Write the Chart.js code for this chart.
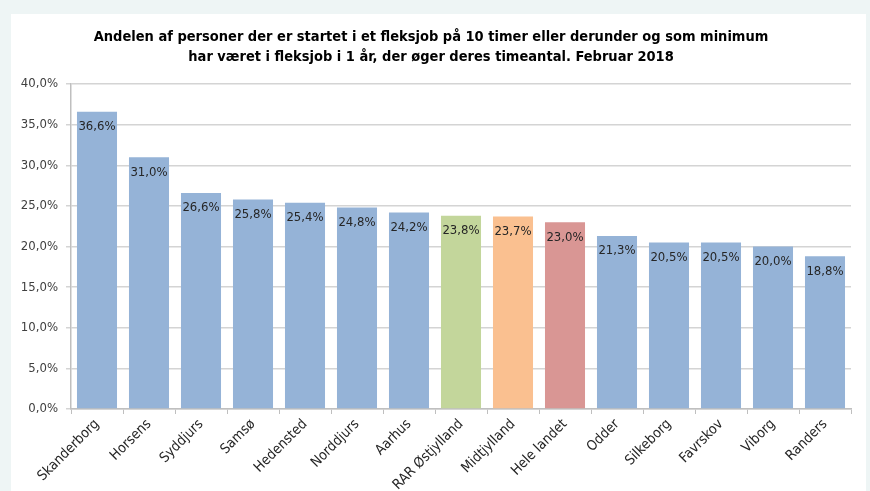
<!DOCTYPE html>
<html>
<head>
<meta charset="utf-8">
<script src="https://cdn.jsdelivr.net/npm/chart.js@4.4.1/dist/chart.umd.min.js"></script>
<style>
    html, body { margin: 0; padding: 0; background: #eef5f5; }
    #wrap { position: absolute; left: 11px; top: 14px; width: 855px; height: 477px; background: #fff; }
</style>
</head>
<body>
<div id="wrap"><canvas id="fleksjobChart" width="855" height="477"></canvas></div>
<script>
// Data
const kommuner = ['Skanderborg', 'Horsens', 'Syddjurs', 'Samsø', 'Hedensted', 'Norddjurs', 'Aarhus',
    'RAR Østjylland', 'Midtjylland', 'Hele landet', 'Odder', 'Silkeborg', 'Favrskov', 'Viborg', 'Randers'];
const andel = [36.6, 31.0, 26.6, 25.8, 25.4, 24.8, 24.2, 23.8, 23.7, 23.0, 21.3, 20.5, 20.5, 20.0, 18.8];
const yTicks = [0, 5, 10, 15, 20, 25, 30, 35, 40];

const blue = '#95b3d7';
const barColors = kommuner.map(k => {
    if (k === 'RAR Østjylland') return '#c3d69b';
    if (k === 'Midtjylland') return '#fac090';
    if (k === 'Hele landet') return '#d99694';
    return blue;
});

const fmt = v => v.toFixed(1).replace('.', ',') + '%';
const fontFam = '"Liberation Sans Narrow", "DejaVu Sans Condensed", "Liberation Sans", sans-serif';

// labels inside the top of each bar
const valueLabels = {
    id: 'valueLabels',
    afterDatasetsDraw(chart) {
        const ctx = chart.ctx;
        const meta = chart.getDatasetMeta(0);
        ctx.save();
        ctx.font = '13px ' + fontFam;
        ctx.fillStyle = '#262626';
        ctx.textAlign = 'center';
        ctx.textBaseline = 'middle';
        meta.data.forEach((bar, i) => {
            ctx.fillText(fmt(andel[i]), bar.x, bar.y + 15);
        });
        ctx.restore();
    }
};

new Chart(document.getElementById('fleksjobChart'), {
    type: 'bar',
    data: {
        labels: kommuner,
        datasets: [{
            data: andel,
            backgroundColor: barColors,
            borderWidth: 0,
            barPercentage: 0.77,
            categoryPercentage: 1
        }]
    },
    options: {
        responsive: false,
        animation: false,
        layout: { padding: { left: 0, right: 15, top: 0, bottom: 0 } },
        plugins: {
            legend: { display: false },
            tooltip: { enabled: false },
            title: {
                display: true,
                text: ['Andelen af personer der er startet i et fleksjob på 10 timer eller derunder og som minimum',
                       'har været i fleksjob i 1 år, der øger deres timeantal. Februar 2018'],
                color: '#000',
                font: { family: fontFam, size: 14.5, weight: 'bold', lineHeight: 1.38 },
                padding: { top: 13, bottom: 17 }
            }
        },
        scales: {
            x: {
                grid: { drawOnChartArea: false, drawTicks: true, tickLength: 5, color: '#bfbfbf', offset: true },
                border: { color: '#bfbfbf', width: 1.5 },
                ticks: {
                    color: '#262626',
                    font: { family: fontFam, size: 14 },
                    minRotation: 45,
                    maxRotation: 45,
                    autoSkip: false,
                    padding: 2
                },
                afterFit: s => { s.height = 82; }
            },
            y: {
                min: 0,
                max: 40,
                afterBuildTicks: s => { s.ticks = yTicks.map(v => ({ value: v })); },
                grid: { color: '#d4d4d4', lineWidth: 1.5, tickLength: 5 },
                border: { color: '#bfbfbf', width: 1.5 },
                ticks: {
                    color: '#404040',
                    font: { family: fontFam, size: 13 },
                    padding: 8,
                    callback: v => fmt(v)
                },
                afterFit: s => { s.width = 60; }
            }
        }
    },
    plugins: [valueLabels]
});
</script>
</body>
</html>
